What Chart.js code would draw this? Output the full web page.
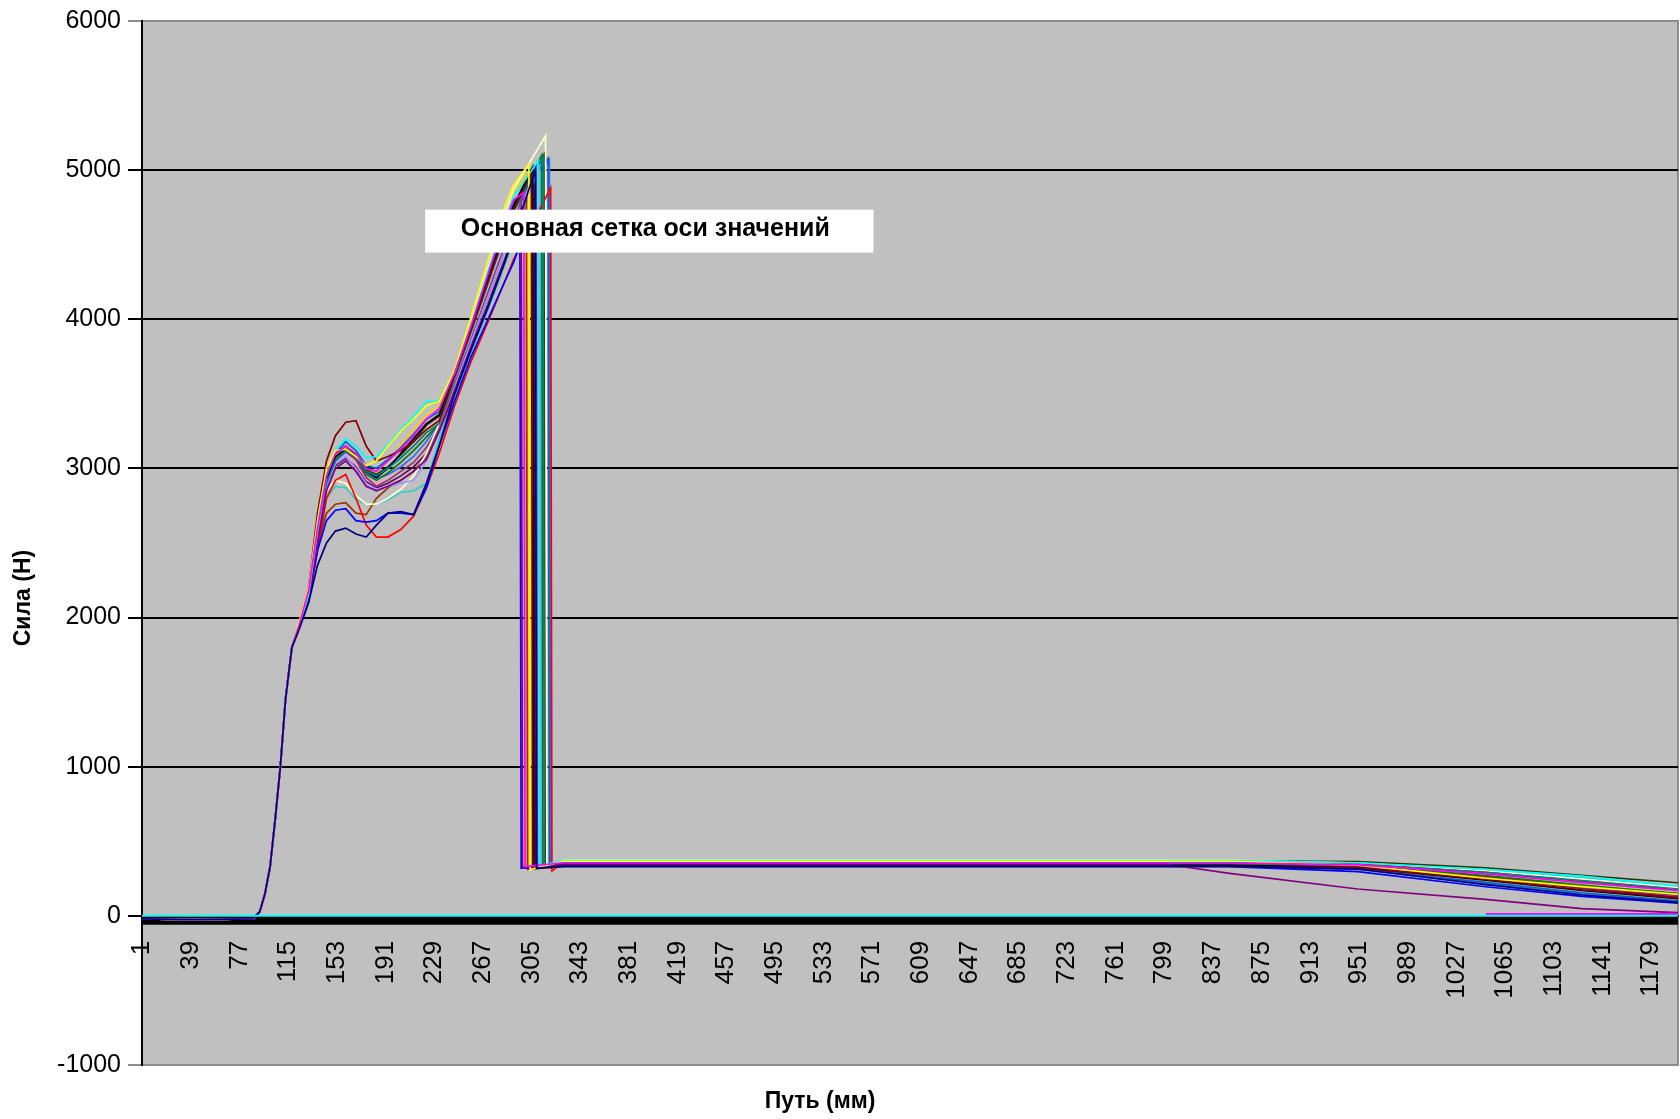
<!DOCTYPE html>
<html lang="ru">
  <head>
    <meta charset="UTF-8" />
    <title>Сила и путь</title>
    <script src="https://cdn.jsdelivr.net/npm/chart.js@4.4.0/dist/chart.umd.min.js"></script>
    <style>
      body { margin: 0; background: #fff; }
    </style>
  </head>
  <body>
    <canvas id="forceChart" width="1680" height="1119"></canvas>

    <script>
      // x tick labels (path, mm)
      const pathTicks = [1, 39, 77, 115, 153, 191, 229, 267, 305, 343, 381, 419, 457, 495, 533, 571,
        609, 647, 685, 723, 761, 799, 837, 875, 913, 951, 989, 1027, 1065, 1103, 1141, 1179];
      const forceTicks = [-1000, 0, 1000, 2000, 3000, 4000, 5000, 6000];

      // common start of every run (before load)
      const leadMm = [1, 40, 88, 93, 97, 101, 105, 109, 113, 118];
      const leadN = [-20, -25, -20, 30, 150, 330, 650, 1000, 1450, 1800];

      // rise up to the main peak
      const bodyMm = [124, 131, 138, 145, 152, 160, 168, 176, 184, 193, 203, 213, 223, 233, 245, 258, 271, 284, 291];
      const bodyN = [
        [1930, 2100, 2350, 2500, 2580, 2600, 2560, 2540, 2620, 2700, 2710, 2690, 2900, 3150, 3500, 3800, 4080, 4380, 4560],
        [1960, 2180, 2600, 2950, 3100, 3150, 3100, 3000, 2980, 3050, 3130, 3220, 3330, 3400, 3640, 3960, 4300, 4640, 4800],
        [1980, 2200, 2650, 3000, 3120, 3130, 3080, 3020, 3050, 3150, 3250, 3330, 3420, 3450, 3660, 4020, 4390, 4750, 4900],
        [1950, 2150, 2580, 2950, 3120, 3200, 3150, 3070, 3080, 3160, 3260, 3350, 3450, 3450, 3640, 3970, 4320, 4660, 4820],
        [1940, 2120, 2500, 2850, 3000, 3050, 2980, 2880, 2850, 2880, 2920, 2980, 3060, 3250, 3520, 3820, 4100, 4400, 4560],
        [1970, 2200, 2700, 3050, 3220, 3310, 3320, 3150, 3050, 3080, 3120, 3180, 3260, 3320, 3620, 3930, 4250, 4570, 4730],
        [1950, 2140, 2560, 2900, 3050, 3120, 3080, 2980, 2950, 3000, 3070, 3150, 3240, 3300, 3610, 3920, 4240, 4560, 4720],
        [1940, 2120, 2450, 2650, 2720, 2730, 2650, 2640, 2650, 2700, 2700, 2690, 2870, 3150, 3450, 3750, 4000, 4250, 4380],
        [1930, 2100, 2450, 2800, 2920, 2960, 2800, 2620, 2540, 2540, 2590, 2680, 2870, 3100, 3420, 3720, 3980, 4250, 4400],
        [1960, 2160, 2580, 2930, 3080, 3130, 3080, 2980, 2940, 3000, 3100, 3200, 3300, 3360, 3630, 3950, 4270, 4590, 4760],
        [1950, 2140, 2540, 2880, 3030, 3080, 3000, 2900, 2860, 2880, 2900, 2920, 3050, 3250, 3540, 3850, 4150, 4460, 4640],
        [1960, 2160, 2550, 2850, 2920, 2900, 2820, 2760, 2760, 2800, 2860, 2950, 3100, 3300, 3620, 3980, 4340, 4700, 4870],
        [1950, 2150, 2560, 2900, 3060, 3120, 3060, 2940, 2880, 2920, 2980, 3040, 3140, 3280, 3560, 3870, 4180, 4490, 4660],
        [1950, 2150, 2580, 2920, 3100, 3180, 3120, 3020, 3000, 3060, 3140, 3230, 3330, 3380, 3630, 3950, 4280, 4610, 4780],
        [1960, 2160, 2570, 2910, 3070, 3120, 3060, 2960, 2920, 2970, 3040, 3120, 3210, 3300, 3610, 3930, 4250, 4580, 4750],
        [1950, 2120, 2480, 2700, 2760, 2770, 2700, 2690, 2800, 2870, 2920, 2980, 3080, 3250, 3500, 3800, 4080, 4380, 4540],
        [1950, 2150, 2520, 2800, 2880, 2870, 2790, 2760, 2760, 2790, 2840, 2850, 2900, 3200, 3480, 3780, 4060, 4360, 4520],
        [1960, 2160, 2580, 2940, 3100, 3150, 3090, 2990, 2960, 3010, 3090, 3180, 3290, 3350, 3620, 3940, 4260, 4590, 4760],
        [1970, 2180, 2610, 2960, 3100, 3140, 3080, 2990, 2980, 3050, 3160, 3260, 3360, 3420, 3650, 3990, 4340, 4690, 4850],
        [1950, 2140, 2550, 2890, 3050, 3110, 3060, 2970, 2930, 2960, 3010, 3080, 3180, 3300, 3600, 3920, 4240, 4560, 4730],
        [1960, 2160, 2580, 2920, 3060, 3100, 3030, 2930, 2900, 2950, 3030, 3120, 3230, 3340, 3630, 3960, 4290, 4630, 4790],
        [1950, 2140, 2540, 2880, 3020, 3070, 3010, 2910, 2870, 2900, 2950, 3010, 3100, 3280, 3540, 3850, 4150, 4460, 4640]
      ];

      // main peak, then sudden drop
      const peakMm = [308, 299, 303, 310, 297, 305, 314, 296, 320, 306, 311, 316, 309, 318, 313, 301, 312, 315, 302, 319, 300, 307];
      const peakN = [5000, 4850, 5040, 5060, 4750, 4980, 5090, 4500, 4880, 5020, 5050, 5230, 5040, 5080, 5100, 4900, 5060, 5110, 4980, 5070, 4880, 5000];
      const dropMm = [309, 300, 304, 311, 298, 306, 315, 297, 321, 307, 312, 317, 310, 319, 314, 302, 313, 316, 303, 320, 301, 308];
      const floorN = [320, 330, 310, 335, 325, 315, 330, 320, 300, 325, 335, 330, 318, 322, 328, 312, 334, 326, 316, 320, 330, 318];

      // plateau after the drop
      const plateauMm = [330, 800];
      const plateauN = [334, 356, 366, 370, 346, 332, 352, 330, 360, 340, 362, 372, 345, 336, 350, 342, 358, 368, 354, 333, 357, 343];

      // slow decline towards the end
      const tailMm = [850, 950, 1050, 1125, 1200];
      const tailN = [
        [334, 314, 210, 140, 90],
        [356, 342, 282, 222, 170],
        [366, 340, 252, 196, 145],
        [370, 356, 312, 266, 200],
        [285, 180, 110, 48, 22],
        [332, 322, 245, 175, 120],
        [352, 344, 292, 236, 180],
        [330, 296, 195, 130, 85],
        [360, 348, 292, 232, 175],
        [340, 324, 240, 170, 115],
        [362, 348, 286, 226, 165],
        [372, 354, 302, 246, 190],
        [345, 330, 256, 190, 135],
        [336, 314, 225, 155, 100],
        [350, 341, 270, 206, 150],
        [342, 332, 265, 200, 150],
        [358, 352, 306, 256, 195],
        [368, 364, 322, 272, 222],
        [354, 341, 266, 206, 155],
        [333, 312, 215, 146, 95],
        [357, 348, 302, 250, 185],
        [343, 330, 256, 186, 125]
      ];

      const runColors = ["#000080", "#FF00FF", "#FFFF00", "#00FFFF", "#800080", "#800000", "#008080", "#0000FF",
        "#FF0000", "#000000", "#9999FF", "#FFFFCC", "#993366", "#0066CC", "#008000", "#993300",
        "#33CCCC", "#333300", "#FFCC00", "#3366FF", "#FF99CC", "#660066"];

      // lines lying on the zero level
      const zeroMm = [1, 1200];
      const zeroN = [0, 0];
      const bandMm = [1, 1200];
      const bandN = [-30, -30];
      const lateMm = [1050, 1200];
      const lateN = [12, 12];

      // the "tooltip" box of the original screenshot
      const boxMm = [222, 572];
      const boxN = [4735, 4447];
      const boxText = "Основная сетка оси значений";

      Chart.defaults.font.family = "'Liberation Sans', Arial, sans-serif";
      Chart.defaults.color = "#000";

      function pts(xs, ys) {
        return xs.map((x, i) => ({ x: x, y: ys[i] }));
      }

      const datasets = [];
      datasets.push({ label: "0", data: pts(zeroMm, zeroN), borderColor: "#00FFFF", borderWidth: 2 });
      datasets.push({ label: "late", data: pts(lateMm, lateN), borderColor: "#FF00FF", borderWidth: 2 });

      bodyN.forEach((body, i) => {
        const data = pts(leadMm, leadN).concat(pts(bodyMm, body));
        data.push({ x: peakMm[i], y: peakN[i] });
        data.push({ x: dropMm[i], y: floorN[i] });
        plateauMm.forEach((x) => data.push({ x: x, y: plateauN[i] }));
        tailMm.forEach((x, j) => data.push({ x: x, y: tailN[i][j] }));
        datasets.push({
          label: "run " + (i + 1),
          data: data,
          borderColor: runColors[i],
          borderWidth: 1.7,
        });
      });

      datasets.push({ label: "band", data: pts(bandMm, bandN), borderColor: "#000", borderWidth: 9 });

      const plotBack = {
        id: "plotBack",
        beforeDraw(chart) {
          const { ctx, chartArea: a } = chart;
          ctx.save();
          ctx.fillStyle = "#C0C0C0";
          ctx.fillRect(a.left, a.top, a.right - a.left, a.bottom - a.top);
          ctx.strokeStyle = "#8C8C8C";
          ctx.lineWidth = 2;
          ctx.strokeRect(a.left, a.top, a.right - a.left, a.bottom - a.top);
          ctx.restore();
        },
        afterDraw(chart) {
          const { ctx } = chart;
          const xs = chart.scales.x;
          const ys = chart.scales.y;
          ctx.save();
          // tooltip box
          const l = xs.getPixelForValue(boxMm[0]);
          const r = xs.getPixelForValue(boxMm[1]);
          const t = ys.getPixelForValue(boxN[0]);
          const b = ys.getPixelForValue(boxN[1]);
          ctx.fillStyle = "#fff";
          ctx.fillRect(l, t, r - l, b - t);
          ctx.fillStyle = "#000";
          ctx.font = "bold 25px 'Liberation Sans', Arial, sans-serif";
          ctx.textAlign = "center";
          ctx.textBaseline = "middle";
          ctx.fillText(boxText, (l + r) / 2 - 4, (t + b) / 2 - 2);

          // axis titles
          ctx.font = "bold 23px 'Liberation Sans', Arial, sans-serif";
          ctx.fillText("Путь (мм)", 820, 1102);
          ctx.translate(24, 598);
          ctx.rotate(-Math.PI / 2);
          ctx.fillText("Сила (Н)", 0, 0);
          ctx.restore();
        },
      };

      const forceChart = new Chart(document.getElementById("forceChart").getContext("2d"), {
        type: "line",
        data: { datasets: datasets },
        options: {
          responsive: false,
          animation: false,
          layout: { padding: { left: 0, top: 21, right: 2, bottom: 54 } },
          elements: { point: { radius: 0 }, line: { tension: 0 } },
          plugins: { legend: { display: false }, tooltip: { enabled: false } },
          scales: {
            x: {
              type: "linear",
              min: 1,
              max: 1200,
              position: { y: 0 },
              afterBuildTicks: (scale) => {
                scale.ticks = pathTicks.map((v) => ({ value: v }));
              },
              afterFit: (scale) => {
                scale.paddingLeft = 0;
                scale.paddingRight = 0;
              },
              ticks: {
                autoSkip: false,
                minRotation: 90,
                maxRotation: 90,
                padding: 25,
                font: { size: 26 },
                callback: (v) => String(v),
              },
              grid: { display: false, drawTicks: false },
              border: { display: true, color: "#000", width: 2 },
            },
            y: {
              type: "linear",
              min: -1000,
              max: 6000,
              afterBuildTicks: (scale) => {
                scale.ticks = forceTicks.map((v) => ({ value: v }));
              },
              afterFit: (scale) => {
                scale.width = 142;
                scale.paddingTop = 0;
                scale.paddingBottom = 0;
              },
              ticks: {
                padding: 7,
                font: { size: 25 },
                callback: (v) => String(v),
              },
              grid: {
                color: (c) => (c.tick && (c.tick.value === 6000 || c.tick.value === -1000) ? "#8C8C8C" : "#000"),
                lineWidth: 2,
                tickLength: 14,
              },
              border: { color: "#000", width: 2 },
            },
          },
        },
        plugins: [plotBack],
      });
    </script>
  </body>
</html>
